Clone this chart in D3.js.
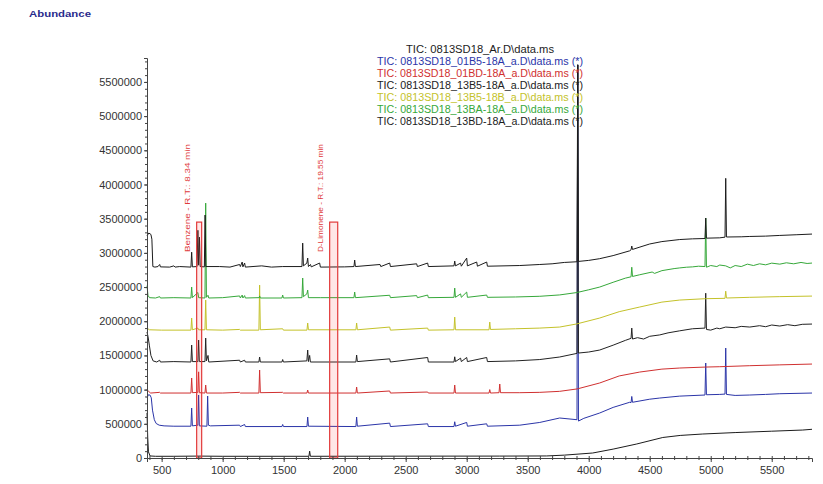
<!DOCTYPE html>
<html>
<head>
<meta charset="utf-8">
<script src="https://cdn.jsdelivr.net/npm/d3@7"></script>
<style>
  body { margin: 0; background: #fff; }
  text { font-family: "Liberation Sans", Arial, sans-serif; }
</style>
</head>
<body>
<div id="wrapper"></div>
<script>
// tick labels
const xTicks = [500, 1000, 1500, 2000, 2500, 3000, 3500, 4000, 4500, 5000, 5500];
const yTicks = [0, 500000, 1000000, 1500000, 2000000, 2500000, 3000000, 3500000, 4000000, 4500000, 5000000, 5500000];

const legendTitle = "TIC: 0813SD18_Ar.D\\data.ms";
const seriesNames = [
    "TIC: 0813SD18_01B5-18A_a.D\\data.ms (*)",
    "TIC: 0813SD18_01BD-18A_a.D\\data.ms (*)",
    "TIC: 0813SD18_13B5-18A_a.D\\data.ms (*)",
    "TIC: 0813SD18_13B5-18B_a.D\\data.ms (*)",
    "TIC: 0813SD18_13BA-18A_a.D\\data.ms (*)",
    "TIC: 0813SD18_13BD-18A_a.D\\data.ms (*)"
];

// marked compounds: retention window [from, to] on the x axis, box top
const markNames = ["Benzene - R.T.: 8.34 min", "D-Limonene - R.T.: 19.55 min"];
const markFrom = [787, 1877];
const markTo = [828, 1943];
const markTop = 3450000;

// chromatograms, [x, abundance]
const ar = [[380,660000],[386,300000],[392,90000],[405,30000],[450,25000],[600,25000],[800,28000],[1000,25000],[1707,25000],[1713,100000],[1719,25000],[2500,27000],[3271,28000],[3656,30000],[3800,42000],[4033,73000],[4200,130000],[4394,205000],[4607,300000],[4750,330000],[4935,351000],[5200,372000],[5500,392000],[5754,409000],[5830,420000]];

const s01B5_18A = [[380,880000],[392,925000],[405,920000],[415,880000],[425,700000],[440,560000],[455,505000],[480,480000],[520,470000],[600,465000],[740,465000],[746,731000],[752,470000],[797,480000],[803,921000],[809,470000],[871,465000],[877,906000],[883,480000],[900,470000],[1139,480000],[1145,460000],[1180,490000],[1186,460000],[1486,460000],[1492,490000],[1498,460000],[1691,460000],[1697,599000],[1703,465000],[2092,460000],[2098,599000],[2104,465000],[2369,510000],[2375,460000],[2680,500000],[2686,460000],[2896,460000],[2902,530000],[2908,465000],[3000,520000],[3006,465000],[3164,500000],[3170,465000],[3435,480000],[3599,520000],[3762,585000],[3904,560000],[3910,5750000],[3916,540000],[3960,580000],[4090,658000],[4200,740000],[4336,815000],[4347,810000],[4353,900000],[4359,815000],[4500,860000],[4582,877000],[4746,905000],[4953,921000],[4959,1389000],[4965,925000],[5074,930000],[5117,935000],[5123,1608000],[5129,930000],[5200,915000],[5320,921000],[5450,930000],[5566,940000],[5830,950000]];

const s01BD_18A = [[380,1000000],[392,975000],[410,950000],[484,960000],[490,950000],[740,950000],[746,1170000],[752,955000],[797,960000],[803,1260000],[809,955000],[855,950000],[861,1067000],[867,950000],[1000,950000],[1139,960000],[1145,950000],[1297,950000],[1303,1287000],[1309,955000],[1492,960000],[1498,950000],[1691,950000],[1697,994000],[1703,950000],[2092,950000],[2098,1038000],[2104,950000],[2369,980000],[2375,950000],[2680,965000],[2686,950000],[2896,950000],[2902,1067000],[2908,950000],[3183,950000],[3189,1000000],[3195,950000],[3265,955000],[3271,1082000],[3277,955000],[3435,955000],[3599,960000],[3762,975000],[3904,1010000],[3916,1015000],[4090,1097000],[4250,1200000],[4418,1257000],[4600,1300000],[4746,1316000],[4959,1330000],[5074,1335000],[5320,1350000],[5566,1362000],[5830,1374000]];

const s13B5_18A = [[380,1842000],[388,1780000],[400,1640000],[412,1500000],[430,1420000],[460,1404000],[484,1430000],[490,1404000],[600,1410000],[740,1404000],[746,1652000],[752,1410000],[797,1410000],[803,1725000],[809,1410000],[855,1410000],[861,1754000],[867,1420000],[880,1500000],[886,1404000],[1139,1430000],[1145,1404000],[1180,1430000],[1186,1404000],[1297,1404000],[1303,1477000],[1309,1404000],[1486,1404000],[1492,1440000],[1498,1404000],[1690,1420000],[1697,1579000],[1703,1410000],[1713,1500000],[1719,1404000],[2092,1404000],[2098,1506000],[2104,1410000],[2369,1450000],[2375,1404000],[2680,1470000],[2686,1404000],[2896,1404000],[2902,1480000],[2908,1410000],[2950,1460000],[2956,1410000],[3000,1470000],[3006,1410000],[3164,1470000],[3170,1410000],[3400,1420000],[3599,1440000],[3762,1477000],[3904,1530000],[3910,5750000],[3916,1535000],[4000,1550000],[4090,1579000],[4200,1650000],[4300,1720000],[4347,1750000],[4353,1900000],[4359,1740000],[4400,1760000],[4450,1740000],[4500,1780000],[4582,1800000],[4650,1830000],[4746,1860000],[4850,1890000],[4953,1900000],[4959,2410000],[4965,1880000],[5000,1870000],[5050,1900000],[5074,1890000],[5123,1915000],[5200,1905000],[5250,1925000],[5320,1915000],[5400,1935000],[5450,1920000],[5500,1945000],[5566,1930000],[5630,1950000],[5690,1935000],[5750,1955000],[5830,1959000]];

const s13B5_18B = [[380,1900000],[400,1875000],[500,1870000],[740,1870000],[746,2047000],[752,1875000],[797,1900000],[803,1875000],[855,1875000],[861,2310000],[867,1875000],[1000,1870000],[1139,1880000],[1145,1870000],[1297,1870000],[1303,2529000],[1309,1875000],[1492,1890000],[1498,1870000],[1691,1870000],[1697,1974000],[1703,1875000],[2092,1875000],[2098,1974000],[2104,1875000],[2369,1915000],[2375,1870000],[2680,1900000],[2686,1870000],[2896,1875000],[2902,2061000],[2908,1875000],[3183,1875000],[3189,1988000],[3195,1880000],[3400,1890000],[3599,1900000],[3762,1915000],[3900,1960000],[4090,2047000],[4250,2140000],[4418,2208000],[4600,2280000],[4746,2310000],[4959,2330000],[5117,2335000],[5123,2440000],[5129,2340000],[5320,2350000],[5566,2360000],[5830,2368000]];

const s13BA_18A = [[380,2520000],[388,2380000],[400,2345000],[450,2340000],[484,2360000],[490,2340000],[600,2345000],[740,2340000],[746,2500000],[752,2345000],[797,2420000],[803,2345000],[855,2340000],[861,3728000],[867,2350000],[880,2380000],[886,2340000],[1000,2345000],[1139,2370000],[1145,2340000],[1160,2383000],[1166,2340000],[1180,2375000],[1186,2340000],[1300,2345000],[1303,2370000],[1309,2340000],[1486,2340000],[1492,2383000],[1498,2340000],[1650,2345000],[1656,2632000],[1662,2360000],[1690,2400000],[1697,2456000],[1703,2345000],[1800,2345000],[2076,2345000],[2082,2427000],[2088,2345000],[2369,2380000],[2375,2345000],[2590,2375000],[2596,2345000],[2680,2383000],[2686,2345000],[2896,2350000],[2902,2485000],[2908,2350000],[2950,2400000],[2956,2350000],[3000,2427000],[3006,2350000],[3164,2383000],[3170,2350000],[3400,2355000],[3599,2365000],[3762,2385000],[3904,2420000],[4000,2460000],[4090,2500000],[4200,2570000],[4300,2630000],[4347,2650000],[4353,2790000],[4359,2655000],[4418,2680000],[4520,2720000],[4540,2700000],[4600,2740000],[4650,2755000],[4700,2770000],[4746,2780000],[4800,2790000],[4850,2795000],[4900,2805000],[4953,2800000],[4959,3509000],[4965,2790000],[5000,2815000],[5050,2800000],[5074,2822000],[5123,2810000],[5160,2780000],[5200,2815000],[5250,2800000],[5300,2835000],[5350,2815000],[5400,2840000],[5450,2825000],[5500,2850000],[5566,2835000],[5620,2855000],[5680,2840000],[5740,2860000],[5790,2845000],[5830,2851000]];

const s13BD_18A = [[380,3250000],[395,3290000],[412,3270000],[420,3200000],[428,2800000],[445,2792000],[470,2800000],[484,2830000],[490,2795000],[566,2792000],[600,2810000],[610,2792000],[648,2800000],[740,2792000],[746,3010000],[752,2795000],[790,2800000],[797,3330000],[803,2820000],[810,3230000],[816,2800000],[850,2795000],[856,3553000],[862,2800000],[975,2800000],[1060,2792000],[1139,2830000],[1145,2800000],[1160,2866000],[1166,2795000],[1180,2851000],[1186,2792000],[1320,2810000],[1400,2792000],[1492,2800000],[1650,2800000],[1656,3143000],[1662,2810000],[1690,2850000],[1697,2924000],[1703,2800000],[1720,2830000],[1726,2795000],[1795,2851000],[1801,2792000],[2000,2795000],[2076,2800000],[2082,2895000],[2088,2800000],[2290,2830000],[2296,2800000],[2369,2851000],[2375,2800000],[2590,2840000],[2596,2800000],[2680,2851000],[2686,2800000],[2896,2810000],[2902,2880000],[2908,2810000],[2950,2850000],[2956,2805000],[3000,2924000],[3006,2810000],[3082,2866000],[3088,2805000],[3164,2866000],[3170,2805000],[3435,2815000],[3599,2830000],[3700,2840000],[3800,2860000],[3904,2870000],[3910,5750000],[3916,2875000],[4000,2890000],[4090,2915000],[4200,2960000],[4336,3030000],[4347,3045000],[4353,3100000],[4359,3050000],[4420,3085000],[4500,3130000],[4600,3165000],[4746,3195000],[4850,3205000],[4953,3210000],[4959,3509000],[4965,3215000],[5074,3220000],[5117,3230000],[5123,4090000],[5129,3232000],[5250,3235000],[5320,3240000],[5450,3245000],[5566,3255000],[5700,3265000],[5830,3275000]];

const seriesData = [ar, s01B5_18A, s01BD_18A, s13B5_18A, s13B5_18B, s13BA_18A, s13BD_18A];
const seriesColors = ["#1c1c1c", "#2b35a8", "#d03030", "#222222", "#c4c22a", "#36a83a", "#1c1c1c"];

function drawChromatogram() {
    const dimensions = {
        width: 823,
        height: 484,
        margin: { top: 58, right: 11, bottom: 26, left: 147 }
    };
    dimensions.boundedwidth = dimensions.width - dimensions.margin.left - dimensions.margin.right;
    dimensions.boundedheight = dimensions.height - dimensions.margin.top - dimensions.margin.bottom;

    const wrapper = d3.select("#wrapper")
        .append("svg")
        .attr("width", dimensions.width)
        .attr("height", dimensions.height)
        .style("background", "#fff");

    const bounds = wrapper.append("g")
        .attr("transform", `translate(${dimensions.margin.left}, ${dimensions.margin.top})`);

    const xScale = d3.scaleLinear()
        .domain([380, 5830])
        .range([0, dimensions.boundedwidth]);

    const yScale = d3.scaleLinear()
        .domain([0, 5850000])
        .range([dimensions.boundedheight, 0]);

    const lineGenerator = d3.line()
        .x(d => xScale(d[0]))
        .y(d => yScale(d[1]));

    // traces
    seriesData.forEach((data, i) => {
        bounds.append("path")
            .datum(data)
            .attr("d", lineGenerator)
            .attr("fill", "none")
            .attr("stroke", seriesColors[i])
            .attr("stroke-width", 1)
            .attr("stroke-linejoin", "round");
    });

    // red boxes for the marked compounds
    markNames.forEach((name, i) => {
        const x0 = xScale(markFrom[i]);
        const x1 = xScale(markTo[i]);
        bounds.append("rect")
            .attr("x", x0)
            .attr("y", yScale(markTop))
            .attr("width", x1 - x0)
            .attr("height", yScale(0) - yScale(markTop))
            .attr("fill", "rgba(255,60,60,0.12)")
            .attr("stroke", "#e23a3a")
            .attr("stroke-width", 1.2);

        const tx = x0 - 7;
        const ty = yScale(markTop) + 30;
        bounds.append("text")
            .attr("transform", `translate(${tx}, ${ty}) rotate(-90)`)
            .attr("font-size", "8px")
            .attr("fill", "#e03a3a")
            .attr("textLength", 108)
            .attr("lengthAdjust", "spacingAndGlyphs")
            .text(name);
    });

    // axes
    const yAxis = bounds.append("g")
        .call(d3.axisLeft(yScale).tickValues(yTicks).tickSize(3).tickPadding(2).tickFormat(d3.format("d")));
    bounds.append("g")
        .call(d3.axisLeft(yScale).tickValues(d3.range(0, 5850000, 100000)).tickSize(2).tickFormat(""))
        .select(".domain").remove();

    const xAxis = bounds.append("g")
        .attr("transform", `translate(0, ${dimensions.boundedheight})`)
        .call(d3.axisBottom(xScale).tickValues(xTicks).tickSize(4).tickPadding(4).tickFormat(d3.format("d")));
    bounds.append("g")
        .attr("transform", `translate(0, ${dimensions.boundedheight - 2})`)
        .call(d3.axisBottom(xScale).tickValues(d3.range(400, 5830, 100)).tickSize(4).tickFormat(""))
        .select(".domain").remove();

    [yAxis, xAxis].forEach(axis => {
        axis.selectAll("text")
            .attr("font-size", "11px")
            .attr("fill", "#333")
            .style("font-family", "'Liberation Sans', Arial, sans-serif");
    });
    bounds.selectAll(".domain, .tick line").attr("stroke", "#444");

    // "Abundance"
    wrapper.append("text")
        .attr("x", 29)
        .attr("y", 17)
        .attr("font-size", "9px")
        .attr("font-weight", "bold")
        .attr("fill", "#2a2a8c")
        .attr("textLength", 62)
        .attr("lengthAdjust", "spacingAndGlyphs")
        .text("Abundance");

    // legend
    const legend = wrapper.append("g")
        .attr("transform", "translate(480, 53)");
    legend.append("text")
        .attr("x", 0).attr("y", 0)
        .attr("text-anchor", "middle")
        .attr("font-size", "10px")
        .attr("fill", "#1c1c1c")
        .attr("textLength", 148)
        .attr("lengthAdjust", "spacingAndGlyphs")
        .text(legendTitle);
    seriesNames.forEach((name, i) => {
        legend.append("text")
            .attr("x", 0).attr("y", 12 * (i + 1))
            .attr("text-anchor", "middle")
            .attr("font-size", "10px")
            .attr("fill", seriesColors[i + 1])
            .attr("textLength", 206)
            .attr("lengthAdjust", "spacingAndGlyphs")
            .text(name);
    });
}

drawChromatogram();
</script>
</body>
</html>
